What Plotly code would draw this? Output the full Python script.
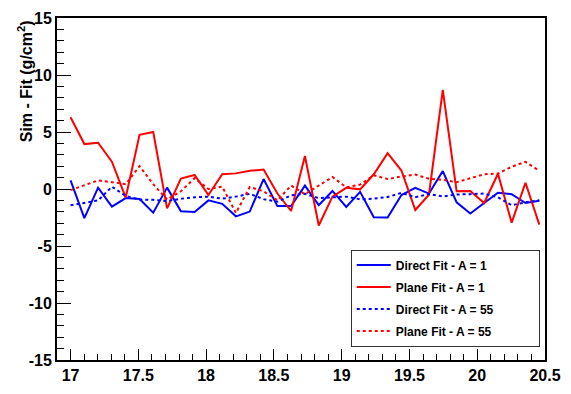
import plotly.graph_objects as go

# x positions of the points
x_vals = [17.000, 17.102, 17.203, 17.305, 17.407, 17.509, 17.610, 17.712, 17.814, 17.915,
          18.017, 18.119, 18.220, 18.322, 18.424, 18.526, 18.627, 18.729, 18.831, 18.932,
          19.034, 19.136, 19.237, 19.339, 19.441, 19.543, 19.644, 19.746, 19.848, 19.949,
          20.051, 20.153, 20.254, 20.356, 20.458]

direct_a1 = [0.75, -2.55, 0.12, -1.55, -0.80, -0.88, -2.08, 0.12, -1.95, -2.02,
             -1.00, -1.30, -2.40, -1.98, 0.87, -1.50, -1.50, 0.30, -1.42, -0.17,
             -1.58, -0.25, -2.48, -2.50, -0.53, 0.10, -0.40, 1.57, -1.17, -2.15,
             -1.23, -0.33, -0.45, -1.23, -1.03]

plane_a1 = [6.30, 3.94, 4.06, 2.40, -0.75, 4.75, 5.00, -1.70, 0.92, 1.23,
            -0.53, 1.29, 1.37, 1.60, 1.70, -0.40, -1.93, 2.90, -3.20, -0.67,
            0.10, -0.03, 1.29, 3.15, 1.62, -1.84, -0.50, 8.70, -0.20, -0.17,
            -1.23, 1.34, -2.95, 0.55, -3.13]

direct_a55 = [-1.43, -1.20, -1.00, 0.20, -0.60, -0.92, -0.95, -1.05, -0.85, -0.73,
              -0.67, -0.85, -0.67, -0.42, -0.89, -1.12, -0.55, -0.42, -0.80, -0.73,
              -0.67, -0.90, -0.85, -0.70, -0.34, -0.72, -0.45, -0.65, -0.48, -0.45,
              -0.40, -0.72, -1.42, -1.17, -0.98]

plane_a55 = [-0.10, 0.33, 0.75, 0.60, 0.42, 2.00, 0.42, -0.92, -0.20, 0.95,
             0.00, 0.20, -2.10, 0.17, -0.20, -1.00, 0.30, -0.45, 0.30, 1.05,
             0.15, 0.38, 1.20, 0.87, 1.10, 1.26, 0.90, 0.80, 0.59, 0.97,
             1.29, 1.35, 1.95, 2.38, 1.60]

series_names = ["Direct Fit - A = 1", "Plane Fit - A = 1",
                "Direct Fit - A = 55", "Plane Fit - A = 55"]

x_tickvals = [17, 17.5, 18, 18.5, 19, 19.5, 20, 20.5]
x_ticktext = ["17", "17.5", "18", "18.5", "19", "19.5", "20", "20.5"]
y_tickvals = [-15, -10, -5, 0, 5, 10, 15]
y_ticktext = ["-15", "-10", "-5", "0", "5", "10", "15"]

FONT = "Liberation Sans, Arial, Helvetica, sans-serif"

fig = go.Figure()
styles = [("#0000ff", "solid"), ("#ff0000", "solid"), ("#0000ff", "dot"), ("#ff0000", "dot")]
PAD = "\u00a0" * 12  # widen the legend box
for i, (name, ys) in enumerate(zip(series_names, [direct_a1, plane_a1, direct_a55, plane_a55])):
    c, d = styles[i]
    fig.add_trace(go.Scatter(x=x_vals, y=ys, mode="lines", name=name + PAD,
                             legendgroup=f"g{i}",
                             line=dict(color=c, width=2, dash=d)))

axis_common = dict(showgrid=False, zeroline=False, showline=True, linecolor="black",
                   linewidth=2, mirror=True, ticks="inside", tickcolor="black",
                   tickwidth=1,
                   tickfont=dict(family=FONT, size=16, color="black", weight="bold"))

fig.update_xaxes(range=[16.9, 20.5], tickmode="array", tickvals=x_tickvals,
                 ticktext=x_ticktext, ticklen=11,
                 minor=dict(dtick=0.1, tick0=17, ticks="inside", ticklen=6,
                            tickcolor="black", tickwidth=1, showgrid=False),
                 **axis_common)
fig.update_yaxes(range=[-15, 15], tickmode="array", tickvals=y_tickvals,
                 ticktext=y_ticktext, ticklen=14,
                 minor=dict(dtick=1, tick0=0, ticks="inside", ticklen=7,
                            tickcolor="black", tickwidth=1, showgrid=False),
                 **axis_common)

fig.add_annotation(text="<b>Sim - Fit (g/cm<sup>2</sup>)</b>", textangle=-90,
                   xref="paper", yref="paper", x=-0.065, y=1.0,
                   xanchor="center", yanchor="top", showarrow=False,
                   font=dict(family=FONT, size=16, color="black"))

fig.update_layout(
    width=571, height=394,
    margin=dict(l=57, r=25, t=10, b=26),
    paper_bgcolor="white", plot_bgcolor="white",
    showlegend=True,
    legend=dict(x=0.602, y=0.323, xanchor="left", yanchor="top",
                bgcolor="white", bordercolor="#333333", borderwidth=1,
                tracegroupgap=3, itemwidth=34,
                font=dict(family=FONT, size=12, color="black", weight="bold")),
)

fig.write_html("out.html")
